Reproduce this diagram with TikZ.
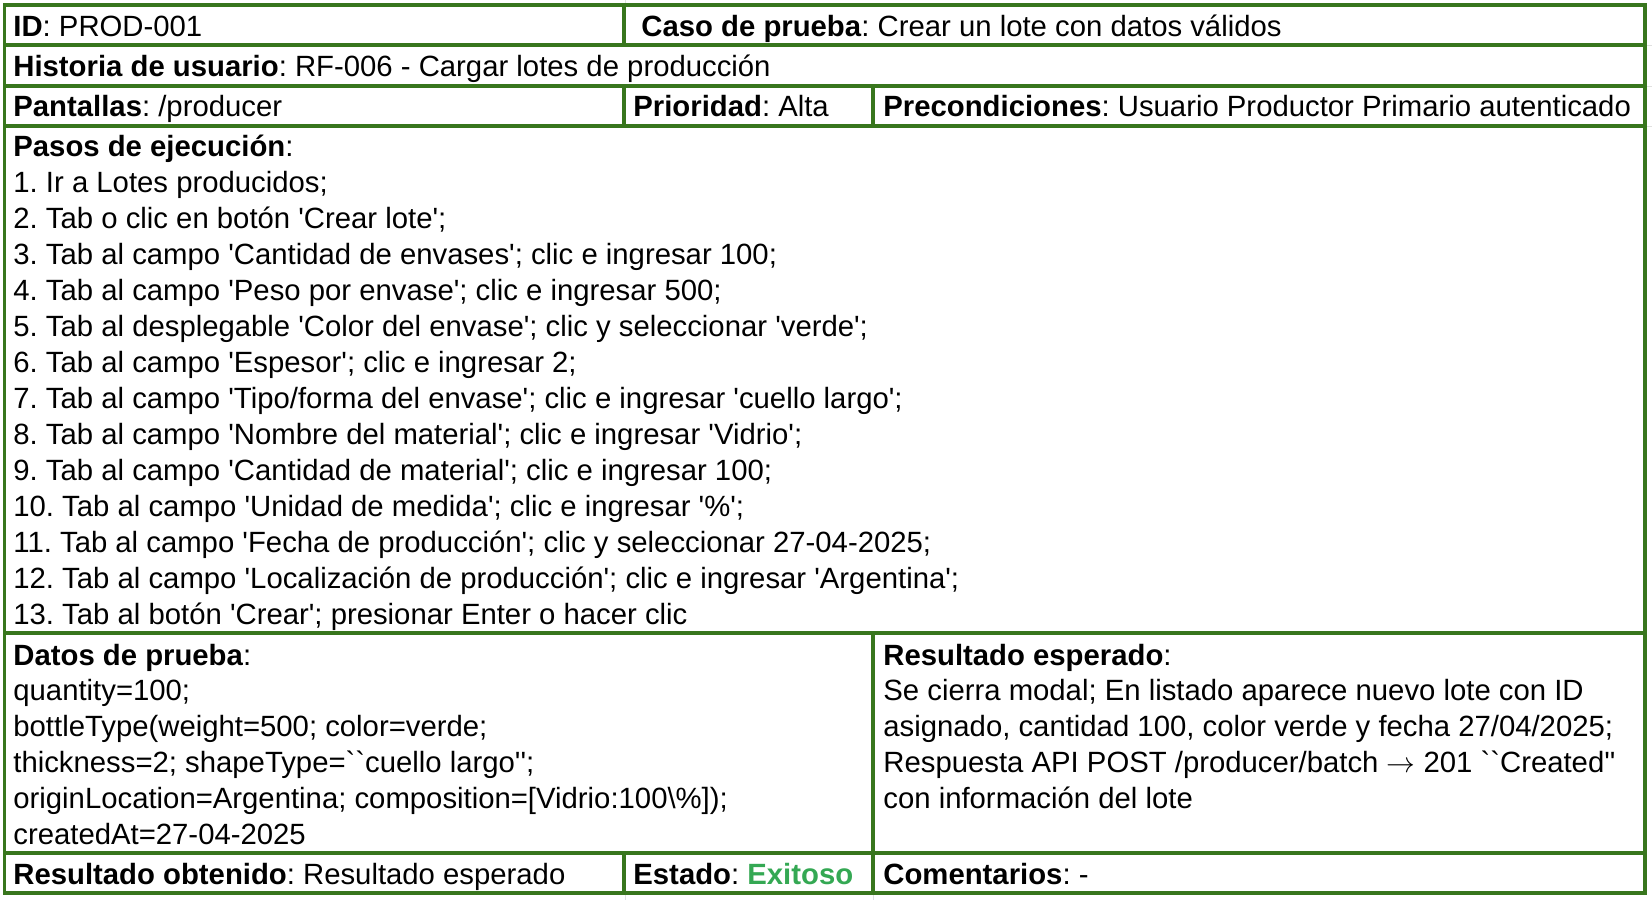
\documentclass[tikz,border=0pt]{standalone}
\usepackage{fontspec}
\setmainfont{Liberation Sans}[Ligatures=TeXOff]
\frenchspacing
\definecolor{borde}{HTML}{38761D}
\definecolor{exito}{HTML}{34A853}
\tikzset{
	celda/.style = {anchor=base west, inner sep=0pt, text=black,
		font=\fontsize{14.65}{18}\selectfont},
	tabla_b/.style = {draw=borde, line width=1.6pt},% borde de la tabla
	tabla_g/.style = {draw=black!12, line width=0.5pt}% rejilla de la hoja
}

\begin{document}
\begin{tikzpicture}[x=0.5pt, y=-0.5pt]
	\useasboundingbox (0,0) rectangle (1652,900);
	% rejilla gris de la hoja
	\draw[tabla_g] (625,0) -- (625,5);
	\draw[tabla_g] (625,893) -- (625,900);
	\draw[tabla_g] (873,893) -- (873,900);
	\foreach \f in {45,86,126} \draw[tabla_g] (1645,\f) -- (1652,\f);
	% bordes verdes
	\draw[tabla_b] (4.5,5) rectangle (1645,893);
	\foreach \f in {45,86,126,633,853} \draw[tabla_b] (4.5,\f) -- (1645,\f);
	\draw[tabla_b] (624,5) -- (624,45);
	\draw[tabla_b] (624,86) -- (624,126);
	\draw[tabla_b] (873,86) -- (873,126);
	\draw[tabla_b] (873,633) -- (873,893);
	\draw[tabla_b] (624,853) -- (624,893);
	% textos
	\node[celda] (id) at (13,36) {\textbf{ID}: PROD-001};
	\node[celda] (caso) at (641,36) {\textbf{Caso de prueba}: Crear un lote con datos válidos};
	\node[celda] (historia) at (13,76) {\textbf{Historia de usuario}: RF-006 - Cargar lotes de producción};
	\node[celda] (pantallas) at (13,116) {\textbf{Pantallas}: /producer};
	\node[celda] (prioridad) at (633,116) {\textbf{Prioridad}: Alta};
	\node[celda] (precond) at (883,116) {\textbf{Precondiciones}: Usuario Productor Primario autenticado};
	\node[celda] (pasos) at (13,156) {\textbf{Pasos de ejecución}:};
	\foreach \paso [count=\i] in {
		{1. Ir a Lotes producidos;},
		{2. Tab o clic en botón 'Crear lote';},
		{3. Tab al campo 'Cantidad de envases'; clic e ingresar 100;},
		{4. Tab al campo 'Peso por envase'; clic e ingresar 500;},
		{5. Tab al desplegable 'Color del envase'; clic y seleccionar 'verde';},
		{6. Tab al campo 'Espesor'; clic e ingresar 2;},
		{7. Tab al campo 'Tipo/forma del envase'; clic e ingresar 'cuello largo';},
		{8. Tab al campo 'Nombre del material'; clic e ingresar 'Vidrio';},
		{9. Tab al campo 'Cantidad de material'; clic e ingresar 100;},
		{10. Tab al campo 'Unidad de medida'; clic e ingresar '\%';},
		{11. Tab al campo 'Fecha de producción'; clic y seleccionar 27-04-2025;},
		{12. Tab al campo 'Localización de producción'; clic e ingresar 'Argentina';},
		{13. Tab al botón 'Crear'; presionar Enter o hacer clic}}
		\node[celda] (paso\i) at (13,{156+36*\i}) {\paso};
	\node[celda] (datos) at (13,665) {\textbf{Datos de prueba}:};
	\foreach \dato [count=\i] in {
		{quantity=100;},
		{bottleType(weight=500; color=verde;},
		{thickness=2; shapeType=``cuello largo'';},
		{originLocation=Argentina; composition=[Vidrio:100\textbackslash\%]);},
		{createdAt=27-04-2025}}
		\node[celda] (dato\i) at (13,{665+35.9*\i}) {\dato};
	\node[celda] (esperado) at (883,665) {\textbf{Resultado esperado}:};
	\foreach \res [count=\i] in {
		{Se cierra modal; En listado aparece nuevo lote con ID},
		{asignado, cantidad 100, color verde y fecha 27/04/2025;},
		{Respuesta API POST /producer/batch $\rightarrow$ 201 ``Created''},
		{con información del lote}}
		\node[celda] (res\i) at (883,{665+35.9*\i}) {\res};
	\node[celda] (obtenido) at (13,884) {\textbf{Resultado obtenido}: Resultado esperado};
	\node[celda] (estado) at (633,884) {\textbf{Estado}: \textcolor{exito}{\textbf{Exitoso}}};
	\node[celda] (coment) at (883,884) {\textbf{Comentarios}: -};
\end{tikzpicture}
\end{document}
